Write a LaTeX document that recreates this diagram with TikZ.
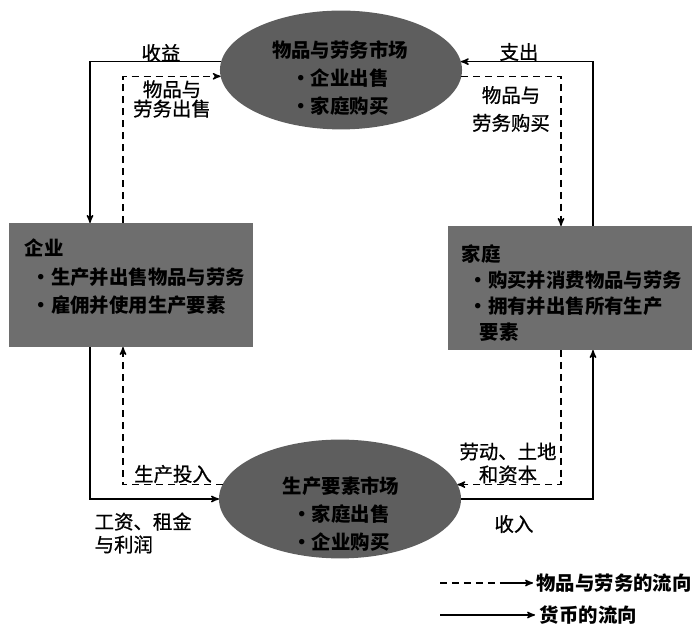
\documentclass[tikz,border=0pt]{standalone}
\usepackage{fontspec}
\newfontfamily\cjk{Noto Sans CJK SC}
\newfontfamily\cjklabel{Noto Sans CJK SC}[FakeBold=0.8]
\usetikzlibrary{arrows,positioning,shapes.geometric}
\definecolor{boxgray}{gray}{0.43}
\definecolor{ellgray}{gray}{0.37}

\begin{document}
\begin{tikzpicture}[x=0.025cm,y=-0.025cm,>=stealth',line width=1pt]
	  \tikzstyle{market}=[ellipse,fill=ellgray,minimum width=6.05cm,minimum height=2.97cm,inner sep=0pt,outer sep=0pt]
	  \tikzstyle{agent}=[rectangle,fill=boxgray,minimum width=6.1cm,minimum height=3.1cm,inner sep=0pt,outer sep=0pt]
	  \tikzstyle{heavy}=[font=\cjk\bfseries\fontsize{13.8}{20.2}\selectfont,text=black,inner sep=0pt]
	  \tikzstyle{flowlabel}=[font=\cjklabel\fontsize{13.8}{13.8}\selectfont,text=black,inner sep=0pt]
	  \tikzstyle{money}=[draw=black,->]
	  \tikzstyle{goods}=[draw=black,->,dash pattern=on 5pt off 3.5pt]

	  \useasboundingbox (0,0) rectangle (700,628);

	  % markets and agents
	  \node[market] (goodsmkt) at (341,70) {};
	  \node[market] (factormkt) at (340,499) {};
	  \node[agent] (firm) at (131,285) {};
	  \node[agent] (household) at (570,288) {};

	  \node[heavy,align=center] (goodsmktT) at (340,78) {物品与劳务市场\\·企业出售\\·家庭购买};
	  \node[heavy,align=center] (factormktT) at (341,514) {生产要素市场\\·家庭出售\\·企业购买};
	  \node[heavy,align=left,anchor=west] (firmT) at (24,277) {企业\\\hspace*{5pt}·生产并出售物品与劳务\\\hspace*{5pt}·雇佣并使用生产要素};
	  \node[heavy,align=left,anchor=west] (householdT) at (461,293) {家庭\\[-1.5pt]\hspace*{5pt}·购买并消费物品与劳务\\[-1.5pt]\hspace*{5pt}·拥有并出售所有生产\\[-1.5pt]\hspace*{13pt}要素};

	  % flows
	  \draw[money] (goodsmkt.176) -| (firm.north -| 90,0);
	  \draw[goods] (firm.north -| 123,0) |- (goodsmkt.183);
	  \draw[money] (household.north -| 593,0) |- (goodsmkt.4);
	  \draw[goods] (goodsmkt.357) -| (household.north -| 561,0);
	  \draw[money] (firm.south -| 90,0) |- (factormkt.west);
	  \draw[goods] (factormkt.173) -| (firm.south -| 123,0);
	  \draw[money] (factormkt.east) -| (household.south -| 593,0);
	  \draw[goods] (household.south -| 561,0) |- (factormkt.7);

	  \node[flowlabel] (revenue) at (161,53) {收益};
	  \node[flowlabel,align=center] (gsold) at (172,99) {物品与\\劳务出售};
	  \node[flowlabel] (spending) at (519,52) {支出};
	  \node[flowlabel,align=center] (gbought) at (511,109) {物品与\\[6pt]劳务购买};
	  \node[flowlabel] (inputs) at (173,474) {生产投入};
	  \node[flowlabel,align=center] (lka) at (508,463) {劳动、土地\\[2.5pt]和资本};
	  \node[flowlabel,align=left,anchor=west] (wages) at (94,533) {工资、租金\\[2.5pt]与利润};
	  \node[flowlabel] (income) at (514,524) {收入};

	  % legend
	  \coordinate (lgA) at (440,583);
	  \coordinate (lgB) at (500,583);
	  \coordinate (lgC) at (533,583);
	  \coordinate (lgD) at (440,615);
	  \coordinate (lgE) at (535,615);
	  \draw[dash pattern=on 5pt off 3.5pt] (lgA) -- (lgB);
	  \draw[money] (lgB) -- (lgC);
	  \draw[money] (lgD) -- (lgE);
	  \node[heavy,anchor=west] (lgGoods) at ([xshift=2pt]lgC) {物品与劳务的流向};
	  \node[heavy,anchor=west] (lgMoney) at ([xshift=3pt]lgE) {货币的流向};
\end{tikzpicture}
\end{document}
